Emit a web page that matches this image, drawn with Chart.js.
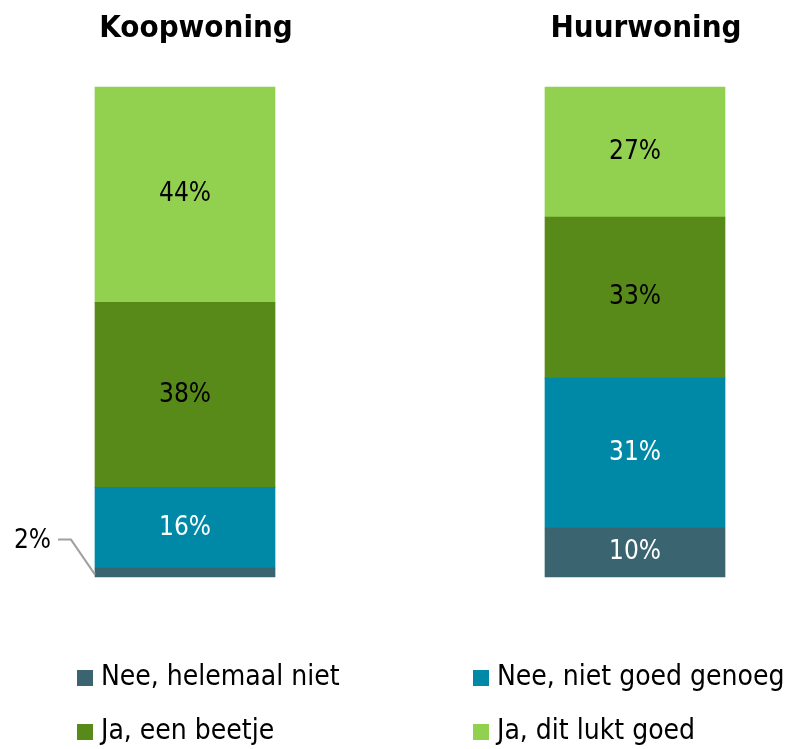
<!DOCTYPE html>
<html lang="nl">
<head>
<meta charset="UTF-8">
<title>Koopwoning / Huurwoning</title>
<style>
  html, body { margin: 0; padding: 0; background: #fff; }
</style>
</head>
<body>
<canvas id="chart" width="799" height="749"></canvas>
<script src="https://cdn.jsdelivr.net/npm/chart.js"></script>
<script>
const categories = ['Koopwoning', 'Huurwoning'];
const seriesNames = ['Nee, helemaal niet', 'Nee, niet goed genoeg', 'Ja, een beetje', 'Ja, dit lukt goed'];
const neeHelemaalNiet = [1.8, 10];
const neeNietGoedGenoeg = [16.5, 30.6];
const jaEenBeetje = [37.8, 32.9];
const jaDitLuktGoed = [43.9, 26.5];
// labels as printed in the chart
const shownLabels = [[2, 10], [16, 31], [38, 33], [44, 27]];

const colors = ['#3a6470', '#0089a7', '#588a1a', '#92d050'];
const labelColors = ['#ffffff', '#ffffff', '#000000', '#000000'];
const FONT = "'Liberation Sans Narrow', 'DejaVu Sans Condensed', 'Open Sans', sans-serif";

const allSeries = [neeHelemaalNiet, neeNietGoedGenoeg, jaEenBeetje, jaDitLuktGoed];

// draws the percentages on the segments (and a leader line for tiny ones)
const segmentLabels = {
  id: 'segmentLabels',
  afterDatasetsDraw(chart) {
    const ctx = chart.ctx;
    ctx.save();
    ctx.font = '26px ' + FONT;
    ctx.textBaseline = 'middle';
    chart.data.datasets.forEach((ds, i) => {
      const meta = chart.getDatasetMeta(i);
      meta.data.forEach((bar, j) => {
        const txt = shownLabels[i][j] + '%';
        const midY = (bar.y + bar.base) / 2;
        const h = Math.abs(bar.base - bar.y);
        if (h < 30) {
          const left = bar.x - bar.width / 2;
          ctx.strokeStyle = '#a0a0a0';
          ctx.lineWidth = 2;
          ctx.beginPath();
          ctx.moveTo(left - 37, midY - 33);
          ctx.lineTo(left - 24, midY - 33);
          ctx.lineTo(left, midY + 2);
          ctx.stroke();
          ctx.fillStyle = '#000';
          ctx.textAlign = 'right';
          ctx.fillText(txt, left - 44, midY - 31);
        } else {
          ctx.fillStyle = labelColors[i];
          ctx.textAlign = 'center';
          ctx.fillText(txt, bar.x, midY);
        }
      });
    });
    ctx.restore();
  }
};

// 2 x 2 legend underneath the bars
const gridLegend = {
  id: 'gridLegend',
  afterDraw(chart) {
    const ctx = chart.ctx;
    ctx.save();
    ctx.font = '28px ' + FONT;
    ctx.textBaseline = 'middle';
    ctx.textAlign = 'left';
    const cols = [77, 473];
    const rows = [678, 732];
    chart.data.datasets.forEach((ds, i) => {
      const x = cols[i % 2];
      const y = rows[Math.floor(i / 2)];
      ctx.fillStyle = ds.backgroundColor;
      ctx.fillRect(x, y - 8, 16, 16);
      ctx.fillStyle = '#000';
      ctx.fillText(ds.label, x + 24, y);
    });
    ctx.restore();
  }
};

new Chart(document.getElementById('chart'), {
  type: 'bar',
  data: {
    labels: categories,
    datasets: seriesNames.map((name, i) => ({
      label: name,
      data: allSeries[i],
      backgroundColor: colors[i],
      borderWidth: 0,
      barThickness: 180,
      clip: false
    }))
  },
  options: {
    responsive: false,
    animation: false,
    layout: { padding: { left: 185, right: 164, top: -30, bottom: 172 } },
    plugins: {
      legend: { display: false },
      tooltip: { enabled: false }
    },
    scales: {
      x: {
        stacked: true,
        position: 'top',
        offset: false,
        grid: { display: false, drawTicks: false },
        border: { display: false },
        ticks: {
          color: '#000',
          padding: 40,
          labelOffset: 11,
          font: { family: FONT, size: 31, weight: 'bold' }
        }
      },
      y: {
        stacked: true,
        display: false,
        min: 0,
        max: 100
      }
    }
  },
  plugins: [segmentLabels, gridLegend]
});
</script>
</body>
</html>
